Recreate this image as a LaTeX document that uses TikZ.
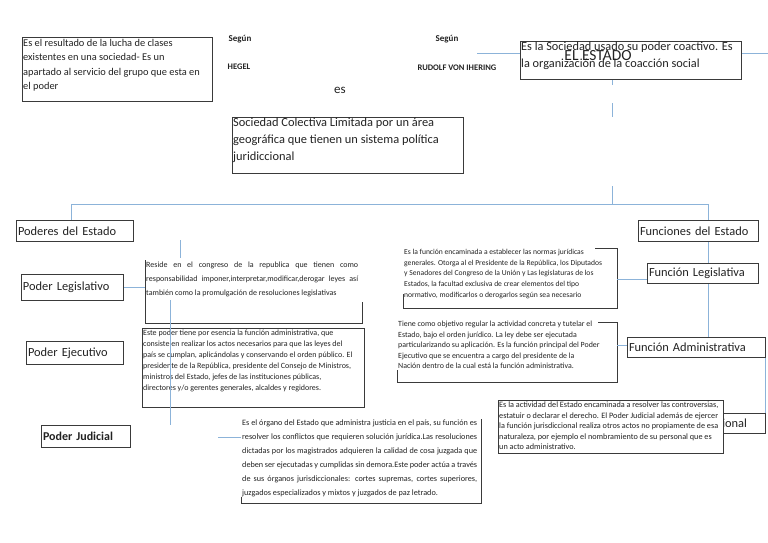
\documentclass[tikz,border=0pt]{standalone}
\usepackage{fontspec}
\setmainfont{Carlito}
\usetikzlibrary{positioning}
\definecolor{ink}{HTML}{222222}
\definecolor{rimgray}{HTML}{3A3A3A}
\definecolor{linkblue}{HTML}{8CB3D9}

\newcommand{\smalltxt}{\fontsize{7.6}{10.7}\selectfont}
\newcommand{\labeltxt}{\fontsize{12.4}{15}\selectfont}

\tikzset{
  boxfrm/.style={draw=rimgray, line width=1pt, inner sep=0pt, anchor=north west},
  rim/.style={draw=rimgray, line width=1pt},
  blurb/.style={inner sep=0pt, anchor=north west, align=left, text=ink},
  tagbox/.style={draw=rimgray, line width=1pt, anchor=north west, inner xsep=1.5pt,
                 inner ysep=0pt, minimum height=21pt, align=left, font=\labeltxt, text=ink},
  link/.style={draw=linkblue, line width=1pt},
  author/.style={font=\fontsize{8.5}{10}\selectfont\bfseries, text=ink},
}

\begin{document}
\begin{tikzpicture}[x=1pt,y=-1pt]
  \useasboundingbox (0,0) rectangle (768,543);

  % cabecera: definiciones y autores
  \node[boxfrm, minimum width=190pt, minimum height=64pt] (clasesfrm) at (22,37) {};
  \node[blurb, font=\fontsize{10.4}{14.5}\selectfont] (clases) at (23,39)
    {Es el resultado de la lucha de clases\\existentes en una sociedad- Es un\\apartado al servicio del grupo que esta en\\el poder};
  \node[author, font=\fontsize{9}{10}\selectfont\bfseries] (segun1) at (240,39) {Según};
  \node[author] (hegel) at (239,67) {HEGEL};
  \node[author, font=\fontsize{9}{10}\selectfont\bfseries] (segun2) at (447,39) {Según};
  \node[author] (rudolf) at (457,68) {RUDOLF VON IHERING};
  \node[font=\fontsize{13}{15}\selectfont, text=ink] (es) at (340,90) {es};

  \node[boxfrm, minimum width=221pt, minimum height=38pt] (estadofrm) at (520,41) {};
  \node[blurb, font=\fontsize{12.3}{16.5}\selectfont] (estadotxt) at (521,42)
    {Es la Sociedad usado su poder coactivo. Es\\la organización de la coacción social};
  \node[font=\fontsize{15.5}{17}\selectfont, text=ink] (estado) at (598,56) {EL ESTADO};

  \node[boxfrm, minimum width=231pt, minimum height=56pt] (sociedadfrm) at (232,117) {};
  \node[blurb, font=\fontsize{12.4}{17}\selectfont] (sociedad) at (233,118)
    {Sociedad Colectiva Limitada por un área\\geográfica que tienen un sistema política\\juridiccional};

  % tronco y barra
  \coordinate (estL) at (477,54);
  \coordinate (estR) at (768,54);
  \coordinate (barL) at (71,204);
  \coordinate (barM) at (612,204);
  \coordinate (barR) at (708,204);
  \coordinate (trunkA) at (612,103);
  \coordinate (trunkB) at (612,186);
  \draw[link] (estL) -- (estL -| estadofrm.west);
  \draw[link] (estR -| estadofrm.east) -- (estR);
  \draw[link] (estadofrm.south -| barM) -- ++(0,5);
  \draw[link] (trunkA) -- ++(0,14);
  \draw[link] (trunkB) -- (barM);
  \draw[link] (barL) -- (barR);

  % poderes
  \node[tagbox, text width=114pt] (poderes) at (16,220) {Poderes del Estado};
  \node[tagbox, text width=99pt, minimum height=26pt] (legis) at (21,274) {Poder Legislativo};
  \node[tagbox, text width=94pt, minimum height=23pt] (ejec) at (26,341) {Poder Ejecutivo};
  \node[tagbox, text width=86pt, minimum height=22pt, font=\fontsize{12}{14}\selectfont\bfseries] (judicial) at (41,425) {Poder Judicial};
  \draw[link] (barL) -- (barL |- poderes.north);

  \coordinate (legNW) at (145,260);
  \draw[rim] (legNW) -- (145,323) -- (362,323) -- (362,302);
  \node[blurb, text width=212pt, align=justify, font=\fontsize{8}{14}\selectfont] (legtxt) at (146,262)
    {Reside en el congreso de la republica que tienen como\linebreak responsabilidad imponer,interpretar,modificar,derogar leyes así\linebreak también como la promulgación de resoluciones legislativas};
  \draw[link] (legis.east) -- (legis.east -| legNW);

  \node[boxfrm, minimum width=222pt, minimum height=79pt] (ejecfrm) at (142,328) {};
  \node[blurb, font=\fontsize{8}{11}\selectfont] (ejectxt) at (143,330)
    {Este poder tiene por esencia la función administrativa, que\\consiste en realizar los actos necesarios para que las leyes del\\país se cumplan, aplicándolas y conservando el orden público. El\\presidente de la República, presidente del Consejo de Ministros,\\ministros del Estado, jefes de las instituciones públicas,\\directores y/o gerentes generales, alcaldes y regidores.};

  \coordinate (judNW) at (241,497);
  \draw[rim] (judNW) -- (241,503) -- (481,503) -- (481,419);
  \node[blurb, text width=235pt, align=justify, font=\fontsize{8.2}{14}\selectfont] (judtxt) at (242,420)
    {Es el órgano del Estado que administra justicia en el país, su función es\linebreak resolver los conflictos que requieren solución jurídica.Las resoluciones\linebreak dictadas por los magistrados adquieren la calidad de cosa juzgada que\linebreak deben ser ejecutadas y cumplidas sin demora.Este poder actúa a través\linebreak de sus órganos jurisdiccionales: cortes supremas, cortes superiores,\linebreak juzgados especializados y mixtos y juzgados de paz letrado.};
  \coordinate (judA) at (218,437);
  \draw[link] (judA) -- (judA -| judNW);

  \coordinate (drop1) at (180,240);
  \coordinate (drop2) at (170,300);
  \draw[link] (drop1) -- ++(0,18);
  \draw[link] (drop2) -- (drop2 |- judicial.north);

  % funciones
  \node[tagbox, text width=117pt] (funciones) at (638,220) {Funciones del Estado};
  \node[tagbox, text width=108pt, minimum height=20pt] (legfn) at (647,263) {Función Legislativa};
  \node[tagbox, text width=135pt, minimum height=20pt] (admfn) at (627,337) {Función Administrativa};
  \node[tagbox, text width=128pt, minimum height=20pt] (jurfn) at (634,413) {Función Jurisdiccional};
  \coordinate (jurdrop) at (765,0);
  \draw[link] (barR) -- (barR |- funciones.north);
  \draw[link] (funciones.south -| barR) -- (legfn.north -| barR);
  \draw[link] (legfn.south -| barR) -- (admfn.north -| barR);
  \draw[link] (admfn.south -| jurdrop) -- (jurfn.north -| jurdrop);

  \draw[rim] (595,248) -- (617,248) -- (617,308) -- (403,308) -- (403,294);
  \node[blurb, font=\smalltxt] (flegtxt) at (404,249)
    {Es la función encaminada a establecer las normas jurídicas\\generales. Otorga al el Presidente de la República, los Diputados\\y Senadores del Congreso de la Unión y Las legislaturas de los\\Estados, la facultad exclusiva de crear elementos del tipo\\normativo, modificarlos o derogarlos según sea necesario};
  \coordinate (flegR) at (617,279);
  \draw[link] (flegR) -- (flegR -| legfn.west);

  \draw[rim] (598,322) -- (617,322) -- (617,382) -- (397,382) -- (397,370);
  \node[blurb, font=\fontsize{7.9}{10.5}\selectfont] (admtxt) at (398,321)
    {Tiene como objetivo regular la actividad concreta y tutelar el\\Estado, bajo el orden jurídico. La ley debe ser ejecutada\\particularizando su aplicación. Es la función principal del Poder\\Ejecutivo que se encuentra a cargo del presidente de la\\Nación dentro de la cual está la función administrativa.};
  \coordinate (admR) at (617,345);
  \draw[link] (admR) -- (admR -| admfn.west);

  \node[boxfrm, fill=white, minimum width=225pt, minimum height=53pt] (jurfrm) at (498,400) {};
  \node[blurb, font=\fontsize{8.2}{10.5}\selectfont] (jurtxt) at (499,402)
    {Es la actividad del Estado encaminada a resolver las controversias,\\estatuir o declarar el derecho. El Poder Judicial además de ejercer\\la función jurisdiccional realiza otros actos no propiamente de esa\\naturaleza, por ejemplo el nombramiento de su personal que es\\un acto administrativo.};
\end{tikzpicture}
\end{document}
